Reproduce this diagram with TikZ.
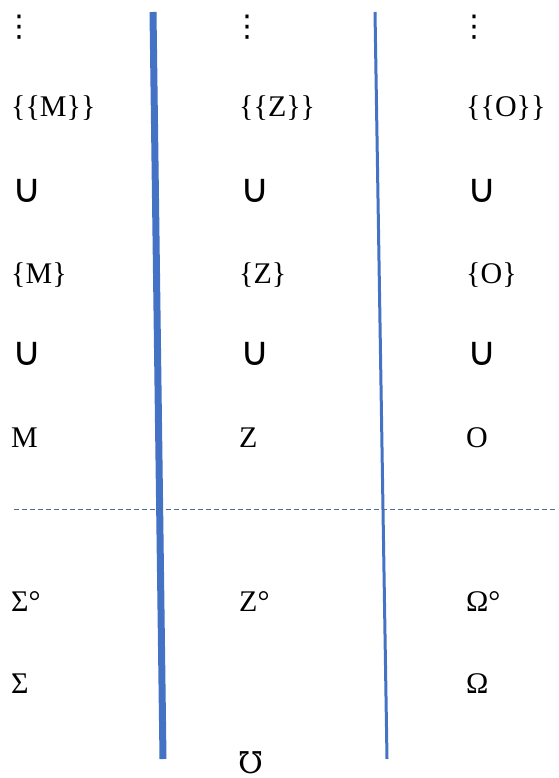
\documentclass[tikz,border=0pt]{standalone}
\usepackage{fontspec}
\setmainfont{Liberation Serif}
\newfontfamily\symfont{DejaVu Sans}
\newfontfamily\mhofont{DejaVu Serif}
\usetikzlibrary{positioning, calc}
\definecolor{lineblue}{HTML}{4472C4}
\definecolor{dashblue}{HTML}{4F6F9A}

\begin{document}
\begin{tikzpicture}[x=1pt, y=-1pt,
      cell/.style={anchor=base west, inner sep=0pt, font=\fontsize{30}{34}\selectfont},
      cup/.style={anchor=base west, inner sep=0pt, font=\symfont\fontsize{40}{44}\selectfont},
      dots/.style={anchor=base west, inner sep=0pt, font=\symfont\fontsize{30}{34}\selectfont},
      sepline/.style={line width=#1, lineblue},
      cutline/.style={dashed, dash pattern=on 5pt off 3pt, dashblue, line width=0.8pt},
    ]
      \useasboundingbox (0,0) rectangle (558,778);

      \node[dots] (m0) at (4, 37) {⋮};
      \node[dots] (z0) at (232, 37) {⋮};
      \node[dots] (o0) at (459, 37) {⋮};

      \node[cell] (m1) at (11, 117) {\{\{M\}\}};
      \node[cell] (z1) at (239, 117) {\{\{Z\}\}};
      \node[cell] (o1) at (466, 117) {\{\{O\}\}};

      \node[cup] (m2) at (12, 202) {∪};
      \node[cup] (z2) at (240, 202) {∪};
      \node[cup] (o2) at (467, 202) {∪};

      \node[cell] (m3) at (11, 283) {\{M\}};
      \node[cell] (z3) at (239, 283) {\{Z\}};
      \node[cell] (o3) at (466, 283) {\{O\}};

      \node[cup] (m4) at (12, 365) {∪};
      \node[cup] (z4) at (240, 365) {∪};
      \node[cup] (o4) at (467, 365) {∪};

      \node[cell] (m5) at (11, 447) {M};
      \node[cell] (z5) at (239, 447) {Z};
      \node[cell] (o5) at (466, 447) {O};

      \node[cell] (m6) at (11, 611) {Σ°};
      \node[cell] (z6) at (239, 611) {Z°};
      \node[cell] (o6) at (466, 611) {Ω°};

      \node[cell] (m7) at (11, 693) {Σ};
      \node[cell] (o7) at (466, 693) {Ω};
      \node[cell] (z8) at (238, 773) {\mhofont ℧};

      % column separators
      \coordinate (sa) at (153, 12);
      \coordinate (sb) at (163, 759);
      \coordinate (ta) at (375, 12);
      \coordinate (tb) at (387, 759);
      \draw[sepline=7pt] (sa) -- (sb);
      \draw[sepline=3pt] (ta) -- (tb);

      \coordinate (ca) at (14, 509);
      \coordinate (cb) at (558, 509);
      \draw[cutline] (ca) -- (cb);
    \end{tikzpicture}
\end{document}
